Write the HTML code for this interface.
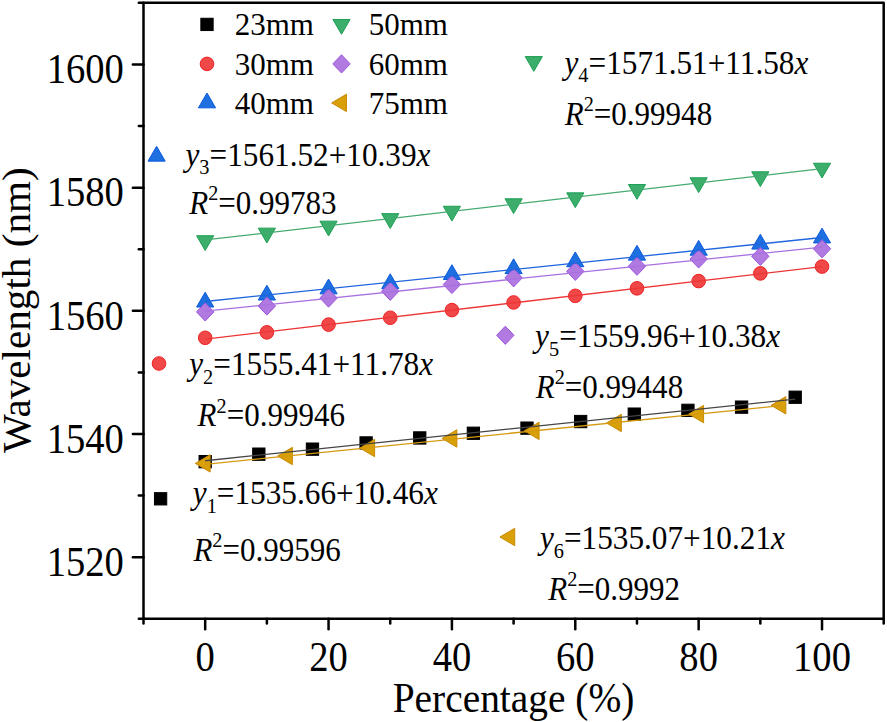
<!DOCTYPE html><html><head><meta charset="utf-8"><style>html,body{margin:0;padding:0;background:#fff;width:887px;height:722px;overflow:hidden}svg{display:block}text{font-family:"Liberation Serif",serif;fill:#000}</style></head><body>
<svg width="887" height="722" viewBox="0 0 887 722">
<rect width="887" height="722" fill="#fff"/>
<rect x="199.03" y="455.51" width="12.30" height="12.30" fill="#000000" stroke="#000000" stroke-width="1.0"/>
<rect x="252.67" y="448.01" width="12.30" height="12.30" fill="#000000" stroke="#000000" stroke-width="1.0"/>
<rect x="306.31" y="443.01" width="12.30" height="12.30" fill="#000000" stroke="#000000" stroke-width="1.0"/>
<rect x="359.95" y="436.80" width="12.30" height="12.30" fill="#000000" stroke="#000000" stroke-width="1.0"/>
<rect x="413.58" y="431.80" width="12.30" height="12.30" fill="#000000" stroke="#000000" stroke-width="1.0"/>
<rect x="467.22" y="427.10" width="12.30" height="12.30" fill="#000000" stroke="#000000" stroke-width="1.0"/>
<rect x="520.86" y="422.00" width="12.30" height="12.30" fill="#000000" stroke="#000000" stroke-width="1.0"/>
<rect x="574.50" y="415.40" width="12.30" height="12.30" fill="#000000" stroke="#000000" stroke-width="1.0"/>
<rect x="628.13" y="407.99" width="12.30" height="12.30" fill="#000000" stroke="#000000" stroke-width="1.0"/>
<rect x="681.77" y="404.19" width="12.30" height="12.30" fill="#000000" stroke="#000000" stroke-width="1.0"/>
<rect x="735.41" y="400.99" width="12.30" height="12.30" fill="#000000" stroke="#000000" stroke-width="1.0"/>
<rect x="789.05" y="391.09" width="12.30" height="12.30" fill="#000000" stroke="#000000" stroke-width="1.0"/>
<circle cx="205.18" cy="337.82" r="6.80" fill="#F04848" stroke="#EE2222" stroke-width="1.0"/>
<circle cx="266.87" cy="332.36" r="6.80" fill="#F04848" stroke="#EE2222" stroke-width="1.0"/>
<circle cx="328.55" cy="324.61" r="6.80" fill="#F04848" stroke="#EE2222" stroke-width="1.0"/>
<circle cx="390.23" cy="317.75" r="6.80" fill="#F04848" stroke="#EE2222" stroke-width="1.0"/>
<circle cx="451.92" cy="310.10" r="6.80" fill="#F04848" stroke="#EE2222" stroke-width="1.0"/>
<circle cx="513.60" cy="302.44" r="6.80" fill="#F04848" stroke="#EE2222" stroke-width="1.0"/>
<circle cx="575.28" cy="295.84" r="6.80" fill="#F04848" stroke="#EE2222" stroke-width="1.0"/>
<circle cx="636.97" cy="288.33" r="6.80" fill="#F04848" stroke="#EE2222" stroke-width="1.0"/>
<circle cx="698.65" cy="281.08" r="6.80" fill="#F04848" stroke="#EE2222" stroke-width="1.0"/>
<circle cx="760.33" cy="273.42" r="6.80" fill="#F04848" stroke="#EE2222" stroke-width="1.0"/>
<circle cx="822.02" cy="266.57" r="6.80" fill="#F04848" stroke="#EE2222" stroke-width="1.0"/>
<polygon points="196.58,307.02 213.78,307.02 205.18,292.22" fill="#1E6FE0" stroke="#0A5ADC" stroke-width="1.0" stroke-linejoin="round"/>
<polygon points="258.27,300.02 275.47,300.02 266.87,285.22" fill="#1E6FE0" stroke="#0A5ADC" stroke-width="1.0" stroke-linejoin="round"/>
<polygon points="319.95,293.87 337.15,293.87 328.55,279.07" fill="#1E6FE0" stroke="#0A5ADC" stroke-width="1.0" stroke-linejoin="round"/>
<polygon points="381.63,288.62 398.83,288.62 390.23,273.82" fill="#1E6FE0" stroke="#0A5ADC" stroke-width="1.0" stroke-linejoin="round"/>
<polygon points="443.32,279.52 460.52,279.52 451.92,264.72" fill="#1E6FE0" stroke="#0A5ADC" stroke-width="1.0" stroke-linejoin="round"/>
<polygon points="505.00,273.63 522.20,273.63 513.60,258.83" fill="#1E6FE0" stroke="#0A5ADC" stroke-width="1.0" stroke-linejoin="round"/>
<polygon points="566.68,266.73 583.88,266.73 575.28,251.93" fill="#1E6FE0" stroke="#0A5ADC" stroke-width="1.0" stroke-linejoin="round"/>
<polygon points="628.37,260.13 645.57,260.13 636.97,245.33" fill="#1E6FE0" stroke="#0A5ADC" stroke-width="1.0" stroke-linejoin="round"/>
<polygon points="690.05,255.23 707.25,255.23 698.65,240.43" fill="#1E6FE0" stroke="#0A5ADC" stroke-width="1.0" stroke-linejoin="round"/>
<polygon points="751.73,249.08 768.93,249.08 760.33,234.28" fill="#1E6FE0" stroke="#0A5ADC" stroke-width="1.0" stroke-linejoin="round"/>
<polygon points="813.42,242.93 830.62,242.93 822.02,228.13" fill="#1E6FE0" stroke="#0A5ADC" stroke-width="1.0" stroke-linejoin="round"/>
<polygon points="196.58,235.73 213.78,235.73 205.18,250.53" fill="#3AAE6A" stroke="#1F9F55" stroke-width="1.0" stroke-linejoin="round"/>
<polygon points="258.27,228.14 275.47,228.14 266.87,242.94" fill="#3AAE6A" stroke="#1F9F55" stroke-width="1.0" stroke-linejoin="round"/>
<polygon points="319.95,221.16 337.15,221.16 328.55,235.96" fill="#3AAE6A" stroke="#1F9F55" stroke-width="1.0" stroke-linejoin="round"/>
<polygon points="381.63,213.63 398.83,213.63 390.23,228.43" fill="#3AAE6A" stroke="#1F9F55" stroke-width="1.0" stroke-linejoin="round"/>
<polygon points="443.32,206.25 460.52,206.25 451.92,221.05" fill="#3AAE6A" stroke="#1F9F55" stroke-width="1.0" stroke-linejoin="round"/>
<polygon points="505.00,198.77 522.20,198.77 513.60,213.57" fill="#3AAE6A" stroke="#1F9F55" stroke-width="1.0" stroke-linejoin="round"/>
<polygon points="566.68,192.83 583.88,192.83 575.28,207.63" fill="#3AAE6A" stroke="#1F9F55" stroke-width="1.0" stroke-linejoin="round"/>
<polygon points="628.37,184.50 645.57,184.50 636.97,199.30" fill="#3AAE6A" stroke="#1F9F55" stroke-width="1.0" stroke-linejoin="round"/>
<polygon points="690.05,177.77 707.25,177.77 698.65,192.57" fill="#3AAE6A" stroke="#1F9F55" stroke-width="1.0" stroke-linejoin="round"/>
<polygon points="751.73,171.79 768.93,171.79 760.33,186.59" fill="#3AAE6A" stroke="#1F9F55" stroke-width="1.0" stroke-linejoin="round"/>
<polygon points="813.42,163.21 830.62,163.21 822.02,178.01" fill="#3AAE6A" stroke="#1F9F55" stroke-width="1.0" stroke-linejoin="round"/>
<polygon points="205.18,302.80 213.88,311.90 205.18,321.00 196.48,311.90" fill="#B07AE0" stroke="#9B55DD" stroke-width="1.0" stroke-linejoin="round"/>
<polygon points="266.87,296.90 275.57,306.00 266.87,315.10 258.17,306.00" fill="#B07AE0" stroke="#9B55DD" stroke-width="1.0" stroke-linejoin="round"/>
<polygon points="328.55,288.96 337.25,298.06 328.55,307.16 319.85,298.06" fill="#B07AE0" stroke="#9B55DD" stroke-width="1.0" stroke-linejoin="round"/>
<polygon points="390.23,282.22 398.93,291.32 390.23,300.42 381.53,291.32" fill="#B07AE0" stroke="#9B55DD" stroke-width="1.0" stroke-linejoin="round"/>
<polygon points="451.92,275.42 460.62,284.52 451.92,293.62 443.22,284.52" fill="#B07AE0" stroke="#9B55DD" stroke-width="1.0" stroke-linejoin="round"/>
<polygon points="513.60,268.73 522.30,277.83 513.60,286.93 504.90,277.83" fill="#B07AE0" stroke="#9B55DD" stroke-width="1.0" stroke-linejoin="round"/>
<polygon points="575.28,262.24 583.98,271.34 575.28,280.44 566.58,271.34" fill="#B07AE0" stroke="#9B55DD" stroke-width="1.0" stroke-linejoin="round"/>
<polygon points="636.97,257.15 645.67,266.25 636.97,275.35 628.27,266.25" fill="#B07AE0" stroke="#9B55DD" stroke-width="1.0" stroke-linejoin="round"/>
<polygon points="698.65,249.85 707.35,258.95 698.65,268.05 689.95,258.95" fill="#B07AE0" stroke="#9B55DD" stroke-width="1.0" stroke-linejoin="round"/>
<polygon points="760.33,247.26 769.03,256.36 760.33,265.46 751.63,256.36" fill="#B07AE0" stroke="#9B55DD" stroke-width="1.0" stroke-linejoin="round"/>
<polygon points="822.02,239.67 830.72,248.77 822.02,257.87 813.32,248.77" fill="#B07AE0" stroke="#9B55DD" stroke-width="1.0" stroke-linejoin="round"/>
<polygon points="195.32,463.39 210.12,454.69 210.12,472.09" fill="#D9A00A" stroke="#C88A05" stroke-width="1.0" stroke-linejoin="round"/>
<polygon points="277.56,456.01 292.36,447.31 292.36,464.71" fill="#D9A00A" stroke="#C88A05" stroke-width="1.0" stroke-linejoin="round"/>
<polygon points="359.81,448.02 374.61,439.32 374.61,456.72" fill="#D9A00A" stroke="#C88A05" stroke-width="1.0" stroke-linejoin="round"/>
<polygon points="442.05,438.44 456.85,429.74 456.85,447.14" fill="#D9A00A" stroke="#C88A05" stroke-width="1.0" stroke-linejoin="round"/>
<polygon points="524.29,430.86 539.09,422.16 539.09,439.56" fill="#D9A00A" stroke="#C88A05" stroke-width="1.0" stroke-linejoin="round"/>
<polygon points="606.54,422.97 621.34,414.27 621.34,431.67" fill="#D9A00A" stroke="#C88A05" stroke-width="1.0" stroke-linejoin="round"/>
<polygon points="688.78,414.09 703.58,405.39 703.58,422.79" fill="#D9A00A" stroke="#C88A05" stroke-width="1.0" stroke-linejoin="round"/>
<polygon points="771.03,405.30 785.83,396.60 785.83,414.00" fill="#D9A00A" stroke="#C88A05" stroke-width="1.0" stroke-linejoin="round"/>
<line x1="205.18" y1="460.76" x2="795.20" y2="399.14" stroke="#454545" stroke-width="1.3"/>
<line x1="205.18" y1="339.12" x2="822.02" y2="266.57" stroke="#EE3535" stroke-width="1.3"/>
<line x1="205.18" y1="301.49" x2="822.02" y2="237.50" stroke="#1F65DD" stroke-width="1.3"/>
<line x1="205.18" y1="239.96" x2="822.02" y2="168.64" stroke="#45AA70" stroke-width="1.3"/>
<line x1="205.18" y1="311.10" x2="822.02" y2="247.17" stroke="#A970E0" stroke-width="1.3"/>
<line x1="205.18" y1="464.39" x2="780.89" y2="405.70" stroke="#D49A10" stroke-width="1.3"/>
<g stroke="#000" stroke-width="2.5" stroke-linecap="round" fill="none">
<path d="M143.5,2.65 H883.7 V618.8 H143.5 Z" stroke-linejoin="round"/>
<line x1="143.50" y1="618.8" x2="143.50" y2="623.50"/>
<line x1="205.18" y1="618.8" x2="205.18" y2="629.30"/>
<line x1="266.87" y1="618.8" x2="266.87" y2="623.50"/>
<line x1="328.55" y1="618.8" x2="328.55" y2="629.30"/>
<line x1="390.23" y1="618.8" x2="390.23" y2="623.50"/>
<line x1="451.92" y1="618.8" x2="451.92" y2="629.30"/>
<line x1="513.60" y1="618.8" x2="513.60" y2="623.50"/>
<line x1="575.28" y1="618.8" x2="575.28" y2="629.30"/>
<line x1="636.97" y1="618.8" x2="636.97" y2="623.50"/>
<line x1="698.65" y1="618.8" x2="698.65" y2="629.30"/>
<line x1="760.33" y1="618.8" x2="760.33" y2="623.50"/>
<line x1="822.02" y1="618.8" x2="822.02" y2="629.30"/>
<line x1="883.70" y1="618.8" x2="883.70" y2="623.50"/>
<line x1="143.5" y1="618.80" x2="138.80" y2="618.80"/>
<line x1="143.5" y1="557.21" x2="132.90" y2="557.21"/>
<line x1="143.5" y1="495.62" x2="138.80" y2="495.62"/>
<line x1="143.5" y1="434.03" x2="132.90" y2="434.03"/>
<line x1="143.5" y1="372.44" x2="138.80" y2="372.44"/>
<line x1="143.5" y1="310.85" x2="132.90" y2="310.85"/>
<line x1="143.5" y1="249.26" x2="138.80" y2="249.26"/>
<line x1="143.5" y1="187.67" x2="132.90" y2="187.67"/>
<line x1="143.5" y1="126.08" x2="138.80" y2="126.08"/>
<line x1="143.5" y1="64.49" x2="132.90" y2="64.49"/>
<line x1="143.5" y1="2.65" x2="138.80" y2="2.65"/>
</g>
<text transform="translate(205.18,671.3) scale(0.93,1)" font-size="41.5" text-anchor="middle">0</text>
<text transform="translate(328.55,671.3) scale(0.93,1)" font-size="41.5" text-anchor="middle">20</text>
<text transform="translate(451.92,671.3) scale(0.93,1)" font-size="41.5" text-anchor="middle">40</text>
<text transform="translate(575.28,671.3) scale(0.93,1)" font-size="41.5" text-anchor="middle">60</text>
<text transform="translate(698.65,671.3) scale(0.93,1)" font-size="41.5" text-anchor="middle">80</text>
<text transform="translate(822.02,671.3) scale(0.93,1)" font-size="41.5" text-anchor="middle">100</text>
<text transform="translate(123.8,576.01) scale(0.93,1)" font-size="41.5" text-anchor="end">1520</text>
<text transform="translate(123.8,452.83) scale(0.93,1)" font-size="41.5" text-anchor="end">1540</text>
<text transform="translate(123.8,329.65) scale(0.93,1)" font-size="41.5" text-anchor="end">1560</text>
<text transform="translate(123.8,206.47) scale(0.93,1)" font-size="41.5" text-anchor="end">1580</text>
<text transform="translate(123.8,83.29) scale(0.93,1)" font-size="41.5" text-anchor="end">1600</text>
<text transform="translate(513.5,711.9) scale(0.938,1)" font-size="42" text-anchor="middle">Percentage (%)</text>
<text transform="translate(30,310.2) rotate(-90) scale(1.045,1)" font-size="39.4" text-anchor="middle">Wavelength (nm)</text>
<rect x="200.85" y="18.25" width="12.30" height="12.30" fill="#000000" stroke="#000000" stroke-width="1.0"/>
<text x="234.7" y="35.4" font-size="31">23mm</text>
<circle cx="207.00" cy="63.90" r="6.80" fill="#F04848" stroke="#EE2222" stroke-width="1.0"/>
<text x="234.7" y="74.9" font-size="31">30mm</text>
<polygon points="198.40,107.83 215.60,107.83 207.00,93.03" fill="#1E6FE0" stroke="#0A5ADC" stroke-width="1.0" stroke-linejoin="round"/>
<text x="234.7" y="113.9" font-size="31">40mm</text>
<polygon points="332.90,19.47 350.10,19.47 341.50,34.27" fill="#3AAE6A" stroke="#1F9F55" stroke-width="1.0" stroke-linejoin="round"/>
<text x="368.7" y="35.4" font-size="31">50mm</text>
<polygon points="341.50,54.80 350.20,63.90 341.50,73.00 332.80,63.90" fill="#B07AE0" stroke="#9B55DD" stroke-width="1.0" stroke-linejoin="round"/>
<text x="368.7" y="74.9" font-size="31">60mm</text>
<polygon points="331.63,102.90 346.43,94.20 346.43,111.60" fill="#D9A00A" stroke="#C88A05" stroke-width="1.0" stroke-linejoin="round"/>
<text x="368.7" y="113.9" font-size="31">75mm</text>
<polygon points="148.00,161.13 165.20,161.13 156.60,146.33" fill="#1E6FE0" stroke="#0A5ADC" stroke-width="1.0" stroke-linejoin="round"/>
<text transform="translate(185.50,165.50) scale(0.947,1)" font-size="33"><tspan font-style="italic">y</tspan><tspan font-size="21.5" dy="8.4">3</tspan><tspan dy="-8.4">=1561.52+10.39</tspan><tspan font-style="italic">x</tspan></text>
<text transform="translate(189.20,213.80) scale(0.94,1)" font-size="33"><tspan font-style="italic">R</tspan><tspan font-size="21.5" dy="-13.8">2</tspan><tspan dy="13.8">=0.99783</tspan></text>
<polygon points="525.20,56.57 542.40,56.57 533.80,71.37" fill="#3AAE6A" stroke="#1F9F55" stroke-width="1.0" stroke-linejoin="round"/>
<text transform="translate(564.50,73.60) scale(0.947,1)" font-size="33"><tspan font-style="italic">y</tspan><tspan font-size="21.5" dy="8.4">4</tspan><tspan dy="-8.4">=1571.51+11.58</tspan><tspan font-style="italic">x</tspan></text>
<text transform="translate(564.80,124.90) scale(0.94,1)" font-size="33"><tspan font-style="italic">R</tspan><tspan font-size="21.5" dy="-13.8">2</tspan><tspan dy="13.8">=0.99948</tspan></text>
<circle cx="159.00" cy="363.50" r="6.80" fill="#F04848" stroke="#EE2222" stroke-width="1.0"/>
<text transform="translate(189.25,375.30) scale(0.947,1)" font-size="33"><tspan font-style="italic">y</tspan><tspan font-size="21.5" dy="8.4">2</tspan><tspan dy="-8.4">=1555.41+11.78</tspan><tspan font-style="italic">x</tspan></text>
<text transform="translate(197.60,426.40) scale(0.94,1)" font-size="33"><tspan font-style="italic">R</tspan><tspan font-size="21.5" dy="-13.8">2</tspan><tspan dy="13.8">=0.99946</tspan></text>
<polygon points="505.30,326.20 514.00,335.30 505.30,344.40 496.60,335.30" fill="#B07AE0" stroke="#9B55DD" stroke-width="1.0" stroke-linejoin="round"/>
<text transform="translate(535.10,347.20) scale(0.947,1)" font-size="33"><tspan font-style="italic">y</tspan><tspan font-size="21.5" dy="8.4">5</tspan><tspan dy="-8.4">=1559.96+10.38</tspan><tspan font-style="italic">x</tspan></text>
<text transform="translate(535.80,397.90) scale(0.94,1)" font-size="33"><tspan font-style="italic">R</tspan><tspan font-size="21.5" dy="-13.8">2</tspan><tspan dy="13.8">=0.99448</tspan></text>
<rect x="154.45" y="492.65" width="12.30" height="12.30" fill="#000000" stroke="#000000" stroke-width="1.0"/>
<text transform="translate(192.80,504.10) scale(0.947,1)" font-size="33"><tspan font-style="italic">y</tspan><tspan font-size="21.5" dy="8.4">1</tspan><tspan dy="-8.4">=1535.66+10.46</tspan><tspan font-style="italic">x</tspan></text>
<text transform="translate(193.40,561.20) scale(0.94,1)" font-size="33"><tspan font-style="italic">R</tspan><tspan font-size="21.5" dy="-13.8">2</tspan><tspan dy="13.8">=0.99596</tspan></text>
<polygon points="499.93,537.00 514.73,528.30 514.73,545.70" fill="#D9A00A" stroke="#C88A05" stroke-width="1.0" stroke-linejoin="round"/>
<text transform="translate(539.90,549.20) scale(0.947,1)" font-size="33"><tspan font-style="italic">y</tspan><tspan font-size="21.5" dy="8.4">6</tspan><tspan dy="-8.4">=1535.07+10.21</tspan><tspan font-style="italic">x</tspan></text>
<text transform="translate(548.20,599.70) scale(0.94,1)" font-size="33"><tspan font-style="italic">R</tspan><tspan font-size="21.5" dy="-13.8">2</tspan><tspan dy="13.8">=0.9992</tspan></text>
</svg></body></html>
